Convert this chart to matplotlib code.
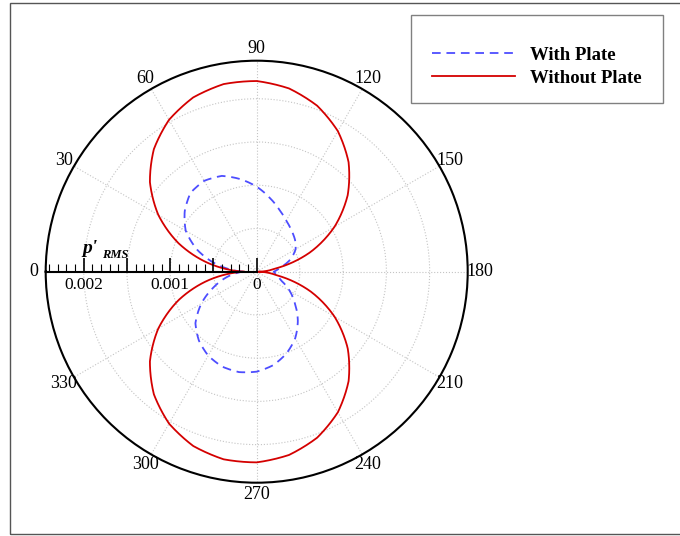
import numpy as np
import matplotlib
matplotlib.use('Agg')
import matplotlib.pyplot as plt
from matplotlib.patches import Rectangle
from matplotlib.ticker import MultipleLocator, FuncFormatter

plt.rcParams['font.family'] = ['Liberation Serif', 'DejaVu Serif']

# ---- data ----
angles_deg = [0, 10, 20, 30, 40, 50, 60, 70, 80, 90, 100, 110, 120, 130, 140, 150, 160, 170, 180,
              190, 200, 210, 220, 230, 240, 250, 260, 270, 280, 290, 300, 310, 320, 330, 340, 350, 360]

without_plate = [0.00015, 0.000566, 0.000962, 0.001314, 0.001612, 0.001850, 0.002028, 0.002145, 0.002203,
                 0.002205, 0.002152, 0.002043, 0.001877, 0.001653, 0.001373, 0.001039, 0.000659, 0.000232,
                 0.00002,
                 0.000232, 0.000659, 0.001039, 0.001373, 0.001653, 0.001877, 0.002043, 0.002152, 0.002205,
                 0.002203, 0.002145, 0.002028, 0.001850, 0.001612, 0.001314, 0.000962, 0.000566, 0.00015]

with_plate = [0.000162, 0.000462, 0.000728, 0.000948, 0.001087, 0.001191, 0.001214, 0.001179, 0.001087,
              0.000983, 0.000867, 0.000763, 0.000682, 0.000624, 0.000578, 0.000520, 0.000416, 0.000277,
              0.000197,
              0.000231, 0.000301, 0.000439, 0.000578, 0.000740, 0.000890, 0.001006, 0.001098, 0.001156,
              0.001179, 0.001168, 0.001121, 0.001040, 0.000925, 0.000740, 0.000532, 0.000347, 0.000162]

theta_tick_deg = [0, 30, 60, 90, 120, 150, 180, 210, 240, 270, 300, 330]
theta_tick_labels = ['0', '30', '60', '90', '120', '150', '180', '210', '240', '270', '300', '330']
r_grid = [0.0005, 0.001, 0.0015, 0.002]
r_max = 0.00244
series_labels = ['With Plate', 'Without Plate']

# ---- figure ----
W, H = 680, 536
fig = plt.figure(figsize=(W / 100, H / 100), dpi=100)
cx, cy, R = 256.7, 271.7, 211.0

ax = fig.add_axes([(cx - R) / W, (H - cy - R) / H, 2 * R / W, 2 * R / H], projection='polar')
ax.set_theta_zero_location('W')
ax.set_theta_direction(-1)
theta = np.deg2rad(angles_deg)
l1, = ax.plot(theta, with_plate, color='#4d4dff', lw=1.3, ls=(0, (4.8, 3.2)), label=series_labels[0])
l2, = ax.plot(theta, without_plate, color='#d40000', lw=1.3, label=series_labels[1])
for ln in (l1, l2):
    ln.get_path()._interpolation_steps = 40
ax.set_ylim(0, r_max)
ax.set_yticks(r_grid)
ax.set_yticklabels([])
ax.tick_params(axis='y', length=0)
ax.set_xticks(np.deg2rad(theta_tick_deg))
ax.set_xticklabels(theta_tick_labels, fontsize=13)
ax.set_xticks(np.deg2rad(np.arange(0, 360, 5)), minor=True)
ax.tick_params(axis='x', which='major', direction='in', length=9.5, width=1.2, pad=1.5)
ax.tick_params(axis='x', which='minor', direction='in', length=4.5, width=0.8)
ax.grid(True, ls=':', color='#c4c4c4', lw=0.8)
ax.spines['polar'].set_linewidth(1.5)

# radial axis drawn along the 0-degree direction
axr = fig.add_axes([(cx - R) / W, (H - cy) / H, R / W, 30 / H])
axr.set_xlim(r_max, 0)
axr.set_ylim(0, 1)
axr.patch.set_visible(False)
for s in ['top', 'left', 'right']:
    axr.spines[s].set_visible(False)
axr.spines['bottom'].set_linewidth(1.5)
axr.set_yticks([])
axr.xaxis.set_major_locator(MultipleLocator(0.0005))
axr.xaxis.set_minor_locator(MultipleLocator(0.0001))
axr.xaxis.set_major_formatter(FuncFormatter(
    lambda v, p: ('%g' % round(v, 4)) if abs(v / 0.001 - round(v / 0.001)) < 1e-6 else ''))
axr.tick_params(axis='x', which='major', direction='in', length=10, width=1.2, labelsize=12.5, pad=4)
axr.tick_params(axis='x', which='minor', direction='in', length=5.5, width=0.8)

# p'_RMS axis title
fig.text(82 / W, (H - 253) / H, "p'", fontsize=14, fontweight='bold', fontstyle='italic',
         ha='left', va='baseline')
fig.text(102 / W, (H - 257.5) / H, "RMS", fontsize=9, fontweight='bold', fontstyle='italic',
         ha='left', va='baseline')

# legend: frameless entries plus a separate box
leg = fig.legend(loc='upper left', bbox_to_anchor=(432 / W, 1 - 46.5 / H), borderaxespad=0,
                 borderpad=0, frameon=False,
                 prop={'weight': 'bold', 'size': 13.5}, handlelength=4.4, handletextpad=0.8,
                 labelspacing=0.32)
fig.patches.append(Rectangle((411 / W, (H - 103) / H), 252 / W, 88 / H, transform=fig.transFigure,
                             fill=False, ec='#808080', lw=1.0))

fig.patches.append(Rectangle((10 / W, 2 / H), 1.0, 531 / H, transform=fig.transFigure,
                             fill=False, ec='#555555', lw=1.0, clip_on=False))

fig.savefig('out.png', dpi=100)
